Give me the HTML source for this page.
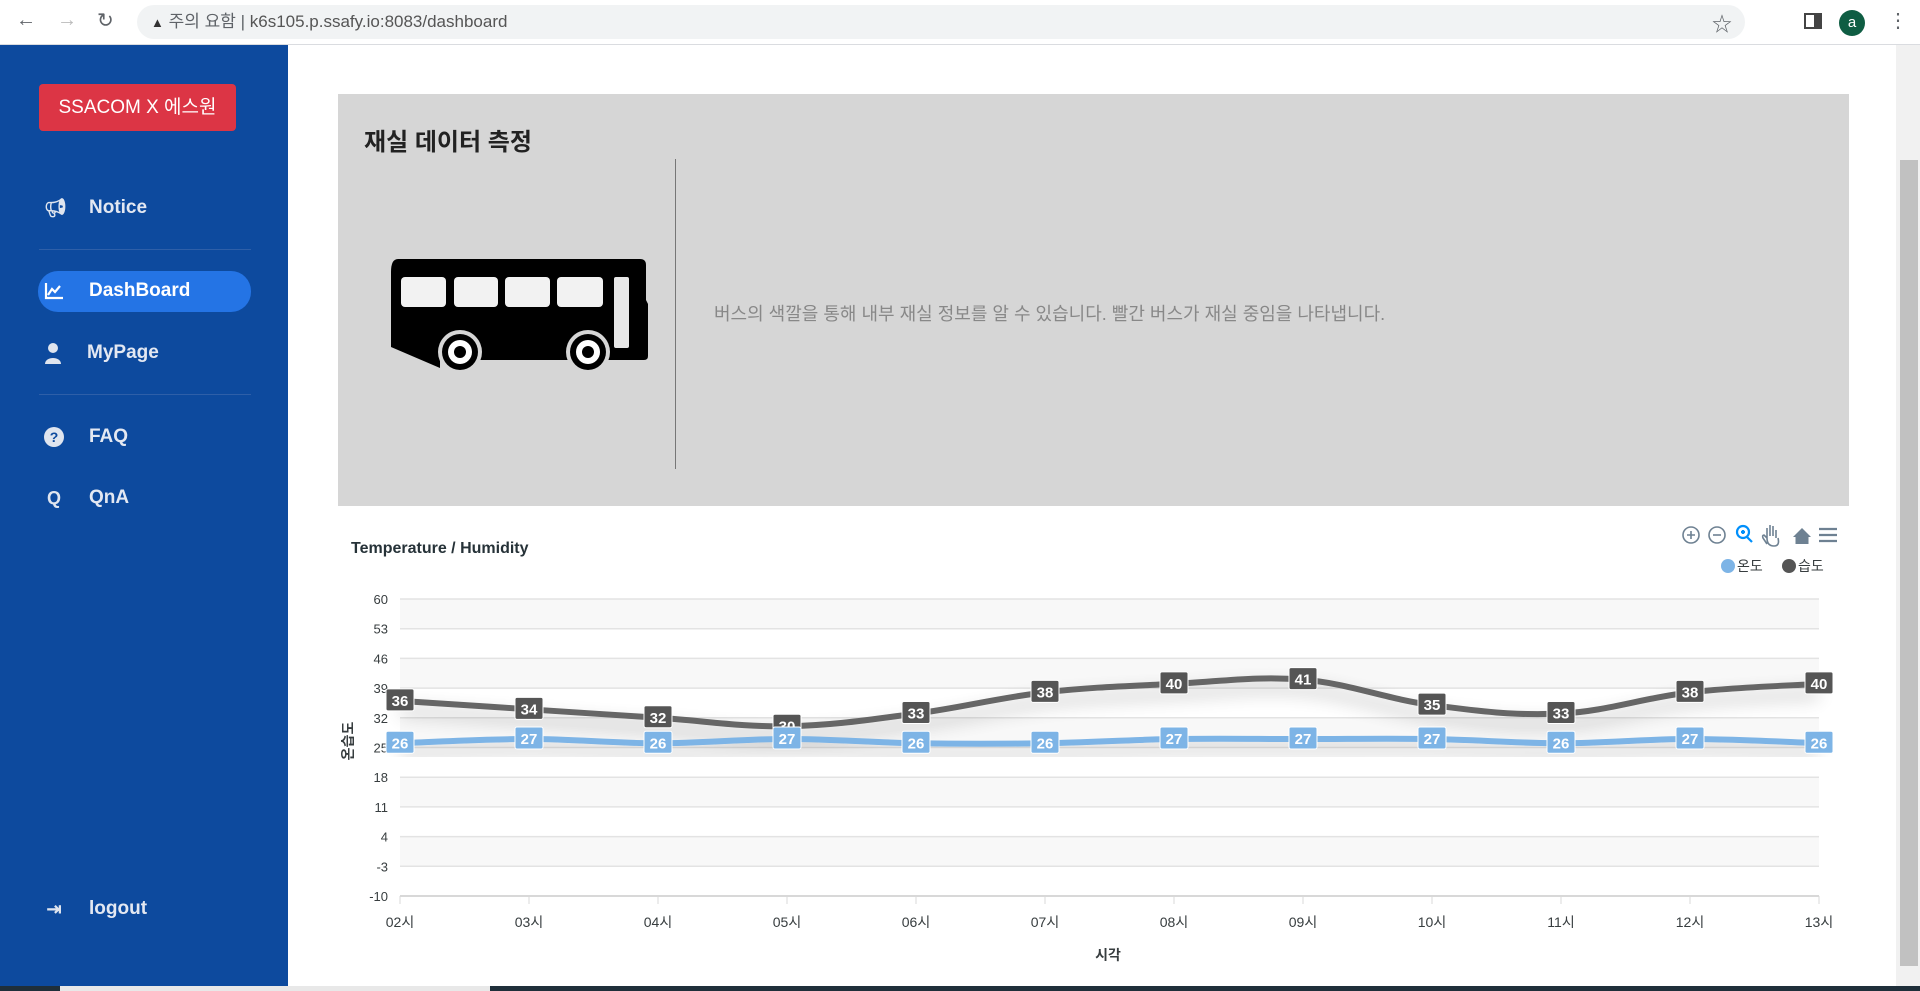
<!DOCTYPE html>
<html><head><meta charset="utf-8">
<style>
*{box-sizing:border-box;margin:0;padding:0}
body{width:1920px;height:991px;overflow:hidden;background:#fff;font-family:"Liberation Sans","Noto Sans CJK KR",sans-serif;position:relative}
.abs{position:absolute}
.nav{position:absolute;left:89px;color:#e3e8f2;font-weight:bold;font-size:19px;line-height:24px}
.nicon{position:absolute;left:44px;width:20px;height:20px;color:#dfe5ef;font-size:18px;font-weight:bold;line-height:20px;text-align:center}
.sep{position:absolute;left:39px;width:212px;height:1px;background:#2e5fa8}
</style></head>
<body>
<div class="abs" style="left:0;top:0;width:1920px;height:45px;background:#fff;border-bottom:1px solid #dadce0">
  <div class="abs" style="left:16px;top:9px;font-size:20px;color:#5f6368">←</div>
  <div class="abs" style="left:57px;top:9px;font-size:20px;color:#bbb">→</div>
  <div class="abs" style="left:97px;top:8px;font-size:20px;color:#5f6368">↻</div>
  <div class="abs" style="left:137px;top:5px;width:1608px;height:34px;border-radius:17px;background:#f1f3f4;font-size:17px;color:#5f6368;line-height:34px;padding-left:14px">
    <span style="font-size:13px;color:#333">▲</span>&nbsp;주의 요함 | <span style="color:#555">k6s105.p.ssafy.io:8083/dashboard</span>
  </div>
  <div class="abs" style="left:1839px;top:10px;width:26px;height:26px;border-radius:13px;background:#0f5d43;color:#fff;font-size:15px;text-align:center;line-height:25px">a</div>
  <div class="abs" style="left:1888px;top:8px;font-size:20px;color:#5f6368">⋮</div>
  <div class="abs" style="left:1804px;top:13px;width:18px;height:16px;border:2px solid #444;border-right-width:8px"></div>
  <div class="abs" style="left:1712px;top:8px;font-size:20px;color:#5f6368">☆</div>
</div>

<div class="abs" style="left:0;top:45px;width:288px;height:941px;background:#0d4a9e"></div>
<div class="abs" style="left:39px;top:84px;width:197px;height:47px;background:#dc3545;border-radius:4px;color:#fff;font-size:19px;text-align:center;line-height:47px">SSACOM X 에스원</div>

<div class="nicon" style="top:198px">📢&#xFE0E;</div>
<div class="nav" style="top:196px">Notice</div>
<div class="sep" style="top:249px"></div>
<div class="abs" style="left:38px;top:271px;width:213px;height:41px;border-radius:20px;background:#2474e5"></div>
<svg class="abs" style="left:44px;top:282px" width="20" height="18"><path d="M2 1V16H19M4 13L8 7L11 10L16 4" stroke="#fff" stroke-width="2.2" fill="none"/></svg>
<div class="nav" style="top:279px;color:#fff">DashBoard</div>
<svg class="abs" style="left:44px;top:342px" width="18" height="22"><circle cx="9" cy="6" r="5" fill="#dfe5ef"/><path d="M1 22C1 14 17 14 17 22Z" fill="#dfe5ef"/></svg>
<div class="nav" style="top:341px;left:87px">MyPage</div>
<div class="sep" style="top:394px"></div>
<div class="abs" style="left:44px;top:427px;width:20px;height:20px;border-radius:10px;background:#dfe5ef;color:#0d4a9e;font-size:14px;font-weight:bold;text-align:center;line-height:20px">?</div>
<div class="nav" style="top:425px">FAQ</div>
<div class="nicon" style="top:488px">Q</div>
<div class="nav" style="top:486px">QnA</div>
<div class="nicon" style="top:899px">⇥</div>
<div class="nav" style="top:897px">logout</div>

<div class="abs" style="left:1896px;top:45px;width:24px;height:941px;background:#f1f1f1"></div>
<div class="abs" style="left:1900px;top:160px;width:18px;height:806px;background:#c1c1c1"></div>
<div class="abs" style="left:0;top:986px;width:1920px;height:5px;background:#1f2f3a"></div>
<div class="abs" style="left:60px;top:986px;width:430px;height:5px;background:#e8e8e8"></div>

<div class="abs" style="left:338px;top:94px;width:1511px;height:412px;background:#d6d6d6"></div>
<div class="abs" style="left:364px;top:122px;font-size:24px;font-weight:bold;color:#222">재실 데이터 측정</div>
<div class="abs" style="left:675px;top:159px;width:1px;height:310px;background:#777"></div>
<svg class="abs" style="left:380px;top:250px" width="280" height="130">
  <g transform="translate(-380,-250)">
    <path d="M398 259 H640 Q646 259 646 265 V300 L648 304 V356 Q648 360 644 360 H440 V368 L391 347 V272 Q391 259 398 259Z" fill="#000"/>
    <rect x="401" y="277" width="45" height="30" rx="4" fill="#f2f2f2"/>
    <rect x="454" y="277" width="44" height="30" rx="4" fill="#f2f2f2"/>
    <rect x="505" y="277" width="45" height="30" rx="4" fill="#f2f2f2"/>
    <rect x="557" y="277" width="46" height="30" rx="4" fill="#f2f2f2"/>
    <rect x="614" y="277" width="15" height="71" rx="2" fill="#e8e8e8"/>
    <circle cx="460" cy="352" r="22" fill="#d6d6d6"/><circle cx="460" cy="352" r="18" fill="#000"/><circle cx="460" cy="352" r="12" fill="#fff"/><circle cx="460" cy="352" r="6" fill="#000"/>
    <circle cx="588" cy="352" r="22" fill="#d6d6d6"/><circle cx="588" cy="352" r="18" fill="#000"/><circle cx="588" cy="352" r="12" fill="#fff"/><circle cx="588" cy="352" r="6" fill="#000"/>
  </g>
</svg>
<div class="abs" style="left:714px;top:300px;font-size:18px;color:#888">버스의 색깔을 통해 내부 재실 정보를 알 수 있습니다. 빨간 버스가 재실 중임을 나타냅니다.</div>

<svg id="chart" class="abs" style="left:0;top:0" width="1920" height="991">
  <defs>
    <filter id="sh" x="-5%" y="-150%" width="110%" height="500%"><feGaussianBlur in="SourceAlpha" stdDeviation="9"/><feOffset dy="10"/><feComponentTransfer><feFuncA type="linear" slope="0.3"/></feComponentTransfer><feMerge><feMergeNode/><feMergeNode in="SourceGraphic"/></feMerge></filter>
  </defs>
  <text x="351" y="553" font-size="16" font-weight="bold" fill="#263238">Temperature / Humidity</text>
  <g id="grid"></g><g id="lines"></g><g id="labels"></g>
  <text x="1108" y="960" font-size="14" font-weight="bold" fill="#373d3f" text-anchor="middle">시각</text>
  <text transform="translate(353,741) rotate(-90)" font-size="14" font-weight="bold" fill="#373d3f" text-anchor="middle">온습도</text>
  <g fill="none" stroke="#6e8192" stroke-width="1.6">
    <g><circle cx="1691" cy="535" r="8"/><path d="M1687 535h8M1691 531v8"/></g>
    <g><circle cx="1717" cy="535" r="8"/><path d="M1713 535h8"/></g>
    <g stroke="#008ffb" stroke-width="2.2"><circle cx="1743" cy="532" r="6"/><path d="M1747 537l5 5M1741 532h4M1743 530v4"/></g>
    <g><path d="M1767 538v-10M1770 536v-11M1773 536v-10M1776 538v-8M1767 538q0 8 7 8q6 0 4-8M1767 538l-3-3q-2 0-1 3l4 6"/></g>
    <path d="M1793 537l9-9l9 9h-2.5v7h-13v-7z" fill="#6e8192" stroke="none"/>
    <path d="M1819 529h18M1819 535h18M1819 541h18" stroke-width="2.2"/>
  </g>
  <g>
    <circle cx="1728" cy="566" r="7" fill="#7db4e6"/>
    <text x="1737" y="571" font-size="14" fill="#373d3f">온도</text>
    <circle cx="1789" cy="566" r="7" fill="#555"/>
    <text x="1798" y="571" font-size="14" fill="#373d3f">습도</text>
  </g>
</svg>
<script>
const categories=["02시","03시","04시","05시","06시","07시","08시","09시","10시","11시","12시","13시"];
const temperature=[26,27,26,27,26,26,27,27,27,26,27,26];
const humidity=[36,34,32,30,33,38,40,41,35,33,38,40];
const yTicks=[60,53,46,39,32,25,18,11,4,-3,-10];
const yMin=-10,yMax=60,x0=400,x1=1819,yTop=599,yBot=896;
const NS="http://www.w3.org/2000/svg";
const X=i=>x0+(x1-x0)*i/(categories.length-1);
const Y=v=>yBot-(v-yMin)/(yMax-yMin)*(yBot-yTop);
function mk(tag,attrs,parent){const e=document.createElementNS(NS,tag);for(const k in attrs)e.setAttribute(k,attrs[k]);parent.appendChild(e);return e;}
const grid=document.getElementById('grid'),lines=document.getElementById('lines'),labels=document.getElementById('labels');
for(let i=0;i<yTicks.length-1;i++){
  if(i%2===0){const r=mk('rect',{x:x0,y:Y(yTicks[i]),width:x1-x0,height:Y(yTicks[i+1])-Y(yTicks[i]),fill:'#f8f8f8'},grid);
  
  }
}
yTicks.forEach(v=>{
  const l=mk('line',{x1:x0,x2:x1,y1:Y(v),y2:Y(v),stroke:'#e3e3e3','stroke-width':1.5},grid);
  
  
  const t=mk('text',{x:388,y:Y(v)+5,'font-size':13,fill:'#373d3f','text-anchor':'end'},grid);t.textContent=v;
  
  
});
mk('line',{x1:x0,x2:x1,y1:yBot,y2:yBot,stroke:'#d8d8d8','stroke-width':2},grid);
categories.forEach((c,i)=>{
  const tk=mk('line',{x1:X(i),x2:X(i),y1:yBot,y2:yBot+8,stroke:'#d8d8d8'},grid);
  
  
  const t=mk('text',{x:X(i),y:927,'font-size':14,fill:'#373d3f','text-anchor':'middle'},grid);t.textContent=c;
  
  
});
function smooth(vals){
  const p=vals.map((v,i)=>[X(i),Y(v)]);let d='M'+p[0][0]+' '+p[0][1];
  for(let i=0;i<p.length-1;i++){
    const a=p[i-1]||p[i],b=p[i],c=p[i+1],e=p[i+2]||c;
    const t=0.18;
    d+=` C${b[0]+(c[0]-a[0])*t} ${b[1]+(c[1]-a[1])*t} ${c[0]-(e[0]-b[0])*t} ${c[1]-(e[1]-b[1])*t} ${c[0]} ${c[1]}`;
  }return d;
}
const hl=mk('path',{d:smooth(humidity),stroke:'#666',fill:'none','stroke-width':6,filter:'url(#sh)'},lines);


const tl=mk('path',{d:smooth(temperature),stroke:'#7db4e6',fill:'none','stroke-width':6,filter:'url(#sh)'},lines);


function lab(vals,col,name){
  vals.forEach((v,i)=>{
    const g=mk('g',{},labels);
    
    
    mk('rect',{x:X(i)-14,y:Y(v)-12,width:28,height:22,rx:2,fill:col,stroke:'#fff','stroke-width':1},g);
    const t=mk('text',{x:X(i),y:Y(v)+5,'font-size':15,'font-weight':'bold',fill:'#fff','text-anchor':'middle'},g);t.textContent=v;
  });
}
lab(humidity,'#555','humidity-data-label');
lab(temperature,'#7db4e6','temperature-data-label');
</script>
</body></html>
